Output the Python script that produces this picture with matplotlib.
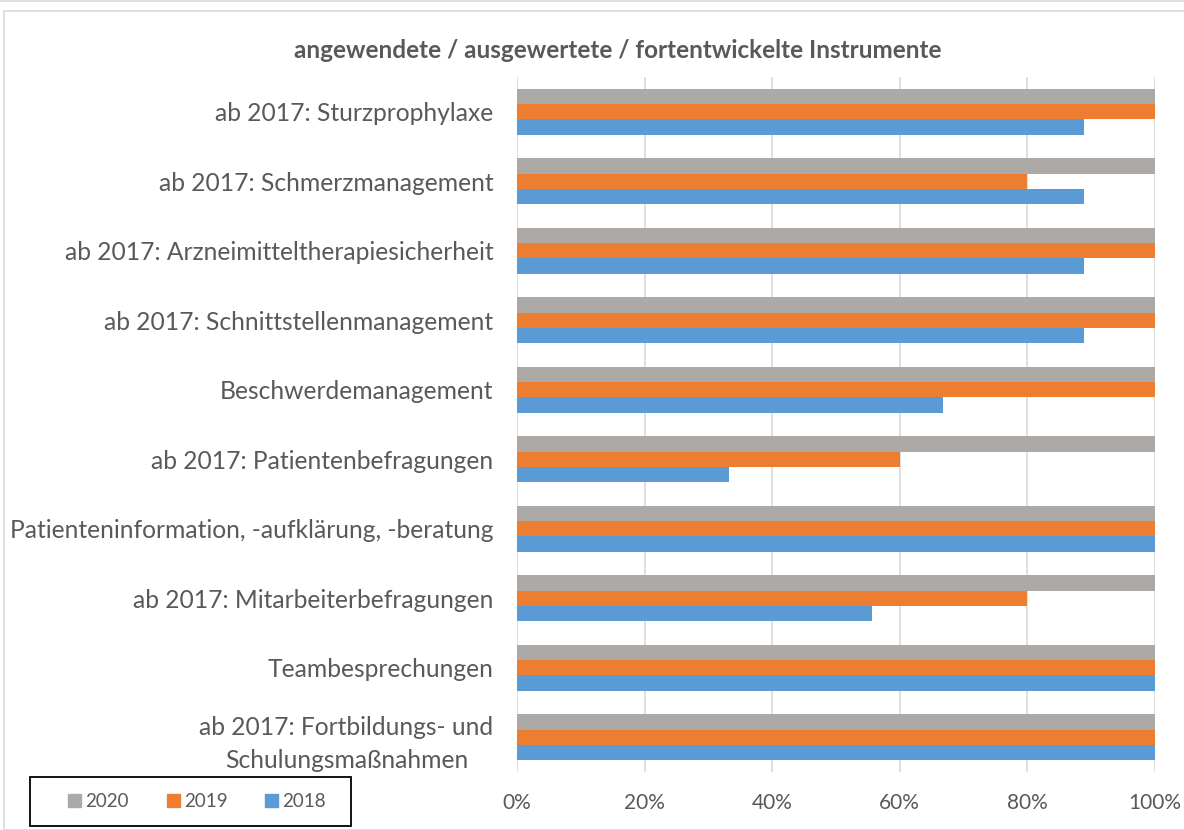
import matplotlib.pyplot as plt
import numpy as np
from matplotlib.patches import Rectangle
from matplotlib.lines import Line2D
from matplotlib.ticker import FuncFormatter

plt.rcParams['font.family'] = ['Lato', 'DejaVu Sans']

# categories from top to bottom
categories = [
    "ab 2017: Sturzprophylaxe",
    "ab 2017: Schmerzmanagement",
    "ab 2017: Arzneimitteltherapiesicherheit",
    "ab 2017: Schnittstellenmanagement",
    "Beschwerdemanagement",
    "ab 2017: Patientenbefragungen",
    "Patienteninformation, -aufklärung, -beratung",
    "ab 2017: Mitarbeiterbefragungen",
    "Teambesprechungen",
    "ab 2017: Fortbildungs- und\nSchulungsmaßnahmen",
]
years = ["2020", "2019", "2018"]
vals_2020 = [100, 100, 100, 100, 100, 100, 100, 100, 100, 100]
vals_2019 = [100, 80, 100, 100, 100, 60, 100, 80, 100, 100]
vals_2018 = [88.9, 88.9, 88.9, 88.9, 66.7, 33.3, 100, 55.6, 100, 100]
colors = ["#ADA9A7", "#ED7D31", "#5B9BD5"]
txt = "#595959"
W, H = 1184, 830

fig = plt.figure(figsize=(11.84, 8.3), dpi=100)
ax = fig.add_axes([517 / W, 1 - 772 / H, (1155 - 517) / W, (772 - 77) / H])

y = np.arange(len(categories))
h = 0.222
for off, vals, c, lab in zip([-h, 0, h], [vals_2020, vals_2019, vals_2018], colors, years):
    ax.barh(y + off, vals, height=h, color=c, label=lab, zorder=3)

ax.set_ylim(len(categories) - 0.5, -0.5)
ax.set_xlim(0, 100)
ax.set_xticks(np.arange(0, 101, 20))
ax.xaxis.set_major_formatter(FuncFormatter(lambda v, p: f"{v:.0f}%"))
ax.set_yticks(y)
ax.set_yticklabels(categories, multialignment='center')
for t in ax.get_yticklabels():
    t.set_linespacing(1.5)
ax.grid(axis='x', color='#D9D9D9', linewidth=1.2, zorder=0)
for s in ax.spines.values():
    s.set_visible(False)
ax.tick_params(axis='y', length=0, pad=17, labelsize=17.7, labelcolor=txt)
ax.tick_params(axis='x', length=0, pad=15, labelsize=15, labelcolor=txt)

fig.text(618 / W, 1 - 50 / H, "angewendete / ausgewertete / fortentwickelte Instrumente",
         ha='center', va='center', fontsize=17.5, fontweight='bold', color=txt)

# outer chart border
fig.patches.append(Rectangle((4 / W, 0), 1.0, 1 - 11 / H, transform=fig.transFigure,
                             fill=False, edgecolor='#D9D9D9', linewidth=1.2))
fig.lines.append(Line2D([0, 1], [1 - 1.5 / H, 1 - 1.5 / H], transform=fig.transFigure,
                        color='#D9D9D9', linewidth=1.2))

# legend box
fig.patches.append(Rectangle((30 / W, 1 - 826 / H), 321 / W, 49 / H, transform=fig.transFigure,
                             fill=True, facecolor='white', edgecolor='black', linewidth=1.3))
handles = [Rectangle((0, 0), 1, 1, color=c) for c in colors]
leg = fig.legend(handles, years, loc='center', bbox_to_anchor=(197 / W, 1 - 801.5 / H), ncol=3,
                 frameon=False, fontsize=13.5, handlelength=0.7, handleheight=0.7,
                 columnspacing=2.0, handletextpad=0.22, borderpad=0.0, labelcolor=txt)

fig.savefig("out.png", dpi=100)
